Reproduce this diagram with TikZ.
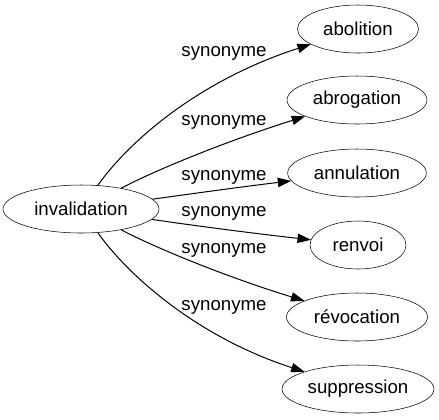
\documentclass[tikz,border=0pt]{standalone}
\usepackage{fontspec}
\setmainfont{Liberation Sans}
\usetikzlibrary{shapes.geometric,arrows.meta}
\begin{document}
\begin{tikzpicture}[x=0.75pt,y=-0.75pt,
  word/.style={draw,ellipse,inner sep=0pt,minimum height=36pt,font=\fontsize{14pt}{16pt}\selectfont},
  rel/.style={font=\fontsize{14pt}{16pt}\selectfont,inner sep=0pt},
  edge/.style={draw,line width=0.75pt,-{Triangle[length=10pt,width=7pt]}}]
\useasboundingbox (0,0) rectangle (439,419);
\node[word,minimum width=117pt] (inv) at (81,209) {invalidation};
\node[word,minimum width=90.75pt] (abo) at (358,29) {abolition};
\node[word,minimum width=105pt] (abr) at (357,100) {abrogation};
\node[word,minimum width=104pt] (ann) at (357,173) {annulation};
\node[word,minimum width=72pt] (ren) at (358,245) {renvoi};
\node[word,minimum width=105.75pt] (rev) at (357,317) {révocation};
\node[word,minimum width=114pt] (sup) at (358,389) {suppression};
\draw[edge] (inv) .. controls (130,140) and (200,80) .. (abo);
\draw[edge] (inv) .. controls (160,168) and (230,140) .. (abr);
\draw[edge] (inv) .. controls (190,194) and (240,187) .. (ann);
\draw[edge] (inv) .. controls (190,225) and (250,233) .. (ren);
\draw[edge] (inv) .. controls (160,250) and (230,278) .. (rev);
\draw[edge] (inv) .. controls (130,278) and (200,338) .. (sup);
\node[rel] (l1) at (224,53) {synonyme};
\node[rel] (l2) at (224,122) {synonyme};
\node[rel] (l3) at (224,177) {synonyme};
\node[rel] (l4) at (224,213) {synonyme};
\node[rel] (l5) at (224,250) {synonyme};
\node[rel] (l6) at (224,307) {synonyme};
\end{tikzpicture}
\end{document}
